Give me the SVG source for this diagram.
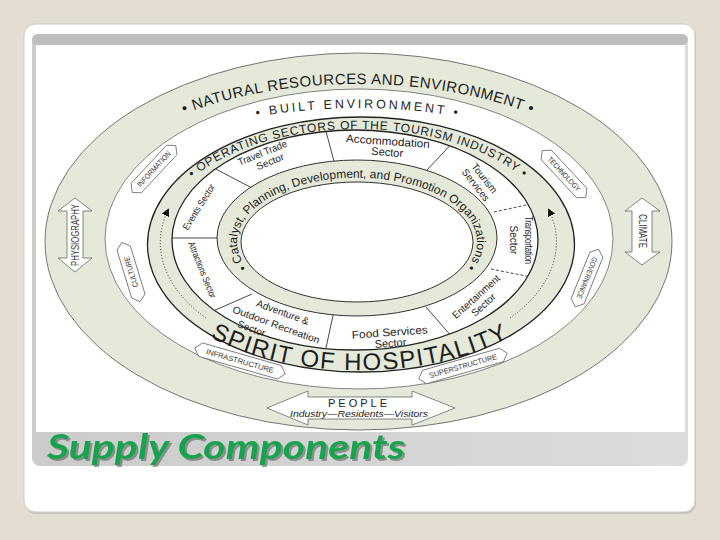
<svg xmlns="http://www.w3.org/2000/svg" width="720" height="540" viewBox="0 0 720 540">
<defs>
<style>
.sans{font-family:"Liberation Sans",Arial,sans-serif;fill:#222}
.ring{font-family:"Liberation Sans",Arial,sans-serif;fill:#1e1e1e}
.cell{font-family:"Liberation Sans",Arial,sans-serif;fill:#222;font-size:10px;text-anchor:middle}
.tag{font-family:"Liberation Sans",Arial,sans-serif;fill:#333;font-size:7.5px;text-anchor:middle}
.tagshape{fill:#fff;stroke:#555;stroke-width:0.7}
.div{stroke:#333;stroke-width:0.9;fill:none}
.dash{stroke:#333;stroke-width:0.9;fill:none;stroke-dasharray:3 2}
.dots{stroke:#333;stroke-width:1;fill:none;stroke-dasharray:1 2}
</style>
<linearGradient id="band" x1="0" y1="0" x2="1" y2="0">
<stop offset="0" stop-color="#cbcbcb"/><stop offset="1" stop-color="#dcdcdc"/>
</linearGradient>
<filter id="shadow" x="-5%" y="-20%" width="110%" height="150%">
<feDropShadow dx="2" dy="2" stdDeviation="0.6" flood-color="#555" flood-opacity="0.55"/>
</filter>
<clipPath id="cellClip"><ellipse cx="355" cy="240" rx="183" ry="110"/></clipPath>
<marker id="ah" markerWidth="9" markerHeight="9" refX="6" refY="4" orient="auto" markerUnits="userSpaceOnUse">
<path d="M0,0 L8,4 L0,8 z" fill="#111"/>
</marker>
<path id="pNat" d="M 58 245 A 300 161 0 0 1 658 245"/>
<path id="pBuilt" d="M 72 245 A 286 137 0 0 1 644 245"/>
<path id="pOper" d="M 158 240 A 200 111 0 0 1 558 240"/>
<path id="pCat" d="M 246 266 A 120 64 0 1 1 468 266"/>
<path id="pSpirit" d="M 206 335 A 222 126 0 0 0 514 335"/>
</defs>

<!-- slide background -->
<rect x="0" y="0" width="720" height="540" fill="#e4ded2"/>
<rect x="25" y="26" width="671" height="488" rx="11" fill="#c8c3ba"/>
<rect x="24" y="24" width="671" height="488" rx="11" fill="#ffffff" stroke="#cfcac1" stroke-width="1"/>
<rect x="32" y="34" width="656" height="432" rx="8" fill="url(#band)"/>
<rect x="32" y="34" width="656" height="11" rx="6" fill="#bdbdbd"/>
<rect x="36" y="45" width="649" height="387" fill="#ffffff"/>

<!-- rings -->
<g id="rings">
<ellipse cx="358.5" cy="241.5" rx="313.5" ry="188.5" fill="#e4e9da" stroke="#555" stroke-width="0.8"/>
<ellipse cx="359" cy="239" rx="254" ry="150" fill="#ffffff" stroke="#666" stroke-width="0.8"/>
<ellipse cx="361" cy="244.5" rx="213.5" ry="127.5" fill="#e4e9da" stroke="#222" stroke-width="1.3"/>
<ellipse cx="355" cy="240" rx="183" ry="110" fill="#ffffff" stroke="#222" stroke-width="1.3"/>
</g>

<!-- sector dividers -->
<g id="connectors" clip-path="url(#cellClip)">
<line class="div" x1="210" y1="166" x2="252" y2="188"/>
<line class="div" x1="324" y1="124" x2="335" y2="165"/>
<line class="div" x1="457" y1="138" x2="426" y2="171"/>
<line class="dash" x1="494" y1="212" x2="545" y2="201"/>
<line class="dash" x1="491" y1="269" x2="546" y2="280"/>
<line class="div" x1="426" y1="307" x2="459" y2="345"/>
<line class="div" x1="334" y1="311" x2="324" y2="357"/>
<line class="div" x1="252" y1="294" x2="204" y2="315"/>
<line class="div" x1="165" y1="238" x2="222" y2="238"/>
</g>

<g id="innerRings">
<ellipse cx="357" cy="238" rx="140" ry="78" fill="#e4e9da" stroke="#333" stroke-width="1"/>
<ellipse cx="357" cy="242" rx="116" ry="60" fill="#ffffff" stroke="#333" stroke-width="1"/>
</g>

<!-- dotted arrows -->
<g id="flow-arrows">
<path class="dots" d="M 206 318 A 198 118 0 0 1 168 210" marker-end="url(#ah)"/>
<path class="dots" d="M 510 318 A 198 118 0 0 0 549 210" marker-end="url(#ah)"/>
</g>

<!-- ring texts -->
<g id="ring-labels">
<text class="ring" font-size="15" letter-spacing="0.5"><textPath href="#pNat" startOffset="50%" text-anchor="middle">• NATURAL RESOURCES AND ENVIRONMENT •</textPath></text>
<text class="ring" font-size="12.5" letter-spacing="2.8"><textPath href="#pBuilt" startOffset="50%" text-anchor="middle">• BUILT ENVIRONMENT •</textPath></text>
<text class="ring" font-size="12" letter-spacing="0.8"><textPath href="#pOper" startOffset="50%" text-anchor="middle">• OPERATING SECTORS OF THE TOURISM INDUSTRY •</textPath></text>
<text class="ring" font-size="12"><textPath href="#pCat" startOffset="50%" text-anchor="middle">• Catalyst, Planning, Development, and Promotion Organizations •</textPath></text>
<text class="ring" font-size="24" letter-spacing="1.5" fill="#222"><textPath href="#pSpirit" startOffset="50%" text-anchor="middle">SPIRIT OF HOSPITALITY</textPath></text>
</g>

<!-- sector cells -->
<g id="travel-trade" transform="translate(264,157) rotate(-22)"><text class="cell" y="-1" textLength="52" lengthAdjust="spacingAndGlyphs">Travel Trade</text><text class="cell" x="4" y="10">Sector</text></g>
<g id="accommodation" transform="translate(388,141) rotate(4)"><text class="cell" style="font-size:11px" y="4" textLength="84" lengthAdjust="spacingAndGlyphs">Accommodation</text><text class="cell" style="font-size:11px" y="15">Sector</text></g>
<g id="tourism-services" transform="translate(481,181) rotate(52)"><text class="cell" y="-1">Tourism</text><text class="cell" y="10">Services</text></g>
<g id="transportation" transform="translate(518,240) rotate(90)"><text class="cell" y="-7" textLength="48" lengthAdjust="spacingAndGlyphs">Transportation</text><text class="cell" y="8">Sector</text></g>
<g id="entertainment" transform="translate(479,300) rotate(-42)"><text class="cell" y="-1" textLength="60" lengthAdjust="spacingAndGlyphs">Entertainment</text><text class="cell" y="10">Sector</text></g>
<g id="food-services" transform="translate(390,336) rotate(-4)"><text class="cell" style="font-size:11px" y="0" textLength="76" lengthAdjust="spacingAndGlyphs">Food Services</text><text class="cell" style="font-size:11px" y="11">Sector</text></g>
<g id="adventure" transform="translate(275,328) rotate(20)"><text class="cell" x="2" y="-14">Adventure &amp;</text><text class="cell" y="0" textLength="92" lengthAdjust="spacingAndGlyphs">Outdoor Recreation</text><text class="cell" x="-22" y="12">Sector</text></g>
<g id="attractions" transform="translate(202,270) rotate(68)"><text class="cell" style="font-size:9.5px" y="3" textLength="60" lengthAdjust="spacingAndGlyphs">Attractions Sector</text></g>
<g id="events" transform="translate(199,207) rotate(-58)"><text class="cell" style="font-size:9.5px" y="3" textLength="52" lengthAdjust="spacingAndGlyphs">Events Sector</text></g>

<!-- tags in built environment band -->
<g id="information" transform="translate(154,169) rotate(-47)"><polygon class="tagshape" points="-32,0 -26,-7 26,-7 32,0 26,7 -26,7"/><text class="tag" y="2.6" textLength="46" lengthAdjust="spacingAndGlyphs">INFORMATION</text></g>
<g id="technology" transform="translate(564,174) rotate(47)"><polygon class="tagshape" points="-32,0 -26,-7 26,-7 32,0 26,7 -26,7"/><text class="tag" y="2.6" textLength="44" lengthAdjust="spacingAndGlyphs">TECHNOLOGY</text></g>
<g id="culture" transform="translate(131,272) rotate(-107)"><polygon class="tagshape" points="-31,0 -25,-7 25,-7 31,0 25,7 -25,7"/><text class="tag" y="2.6" textLength="32" lengthAdjust="spacingAndGlyphs">CULTURE</text></g>
<g id="governance" transform="translate(587,278) rotate(112)"><polygon class="tagshape" points="-31,0 -25,-7 25,-7 31,0 25,7 -25,7"/><text class="tag" y="2.6" textLength="44" lengthAdjust="spacingAndGlyphs">GOVERNANCE</text></g>
<g id="infrastructure" transform="translate(240,361) rotate(16)"><polygon class="tagshape" points="-47,0 -41,-7 41,-7 47,0 41,7 -41,7"/><text class="tag" y="2.6" textLength="70" lengthAdjust="spacingAndGlyphs">INFRASTRUCTURE</text></g>
<g id="superstructure" transform="translate(463,366) rotate(-16)"><polygon class="tagshape" points="-46,0 -40,-7 40,-7 46,0 40,7 -40,7"/><text class="tag" y="2.6" textLength="70" lengthAdjust="spacingAndGlyphs">SUPERSTRUCTURE</text></g>

<!-- double arrows in outer band -->
<g id="physiography">
<polygon class="tagshape" points="75,198 92,211 83,211 83,258 92,258 75,272 58,258 67,258 67,211 58,211"/>
<text class="tag" style="font-size:10px" transform="translate(75,235) rotate(-90)" y="3.5" textLength="62" lengthAdjust="spacingAndGlyphs">PHYSIOGRAPHY</text>
</g>
<g id="climate">
<polygon class="tagshape" points="642,198 660,211 652,211 652,252 660,252 642,265 625,252 632,252 632,211 625,211"/>
<text class="tag" style="font-size:10px" transform="translate(642,231) rotate(90)" y="3.5" textLength="34" lengthAdjust="spacingAndGlyphs">CLIMATE</text>
</g>
<g id="people">
<polygon class="tagshape" points="267,408 308,391 308,397 412,397 412,391 455,408 412,425 412,419 308,419 308,425"/>
<text class="sans" x="359" y="407" font-size="11" letter-spacing="3" text-anchor="middle" fill="#333">PEOPLE</text>
<text class="sans" x="359" y="416.5" font-size="9.5" font-style="italic" text-anchor="middle" textLength="138" lengthAdjust="spacingAndGlyphs" fill="#333">Industry—Residents—Visitors</text>
</g>

<!-- title -->
<g id="title">
<text x="47" y="459" font-family="Lato,'Liberation Sans',sans-serif" font-weight="bold" font-style="italic" font-size="35" textLength="358" lengthAdjust="spacingAndGlyphs" fill="#19a34e" filter="url(#shadow)">Supply Components</text>
</g>
</svg>
